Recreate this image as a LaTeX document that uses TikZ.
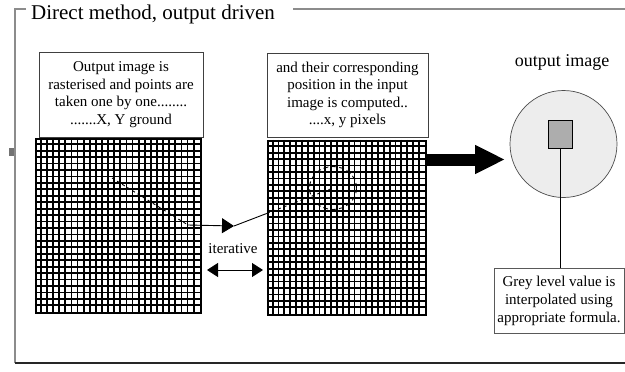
\documentclass[tikz,border=0pt]{standalone}
\usepackage{fontspec}
\setmainfont{Liberation Serif}
\usetikzlibrary{arrows.meta,shapes.geometric}
\begin{document}
\begin{tikzpicture}[x=1pt,y=-1pt,
  textbox/.style={draw=black!75, line width=0.8pt, fill=white, align=center,
    inner sep=0pt, font=\fontsize{15}{17.6}\selectfont},
  gridbox/.style={draw=black, line width=2.4pt, inner sep=0pt},
  gridline/.style={line width=1.8pt, black},
  thinline/.style={line width=0.9pt, black},
  frameline/.style={line width=1.3pt, black!45},
  tri/.style={-{Triangle[length=12pt,width=15pt]}},
  dbl/.style={{Triangle[length=11pt,width=14pt]}-{Triangle[length=11pt,width=14pt]}, line width=0.9pt},
  bigarrow/.style={line width=12pt, -{Triangle[length=30pt,width=27pt]}},
]
\useasboundingbox (0,0) rectangle (625,372);

% outer frame with its title
\node[font=\fontsize{21}{24}\selectfont, inner sep=0pt] (title) at (153,14) {Direct method, output driven};
\draw[frameline] (26,9) -- (15,9) -- (15,363);
\draw[frameline] (293,9) -- (625,9);
\draw[line width=1.3pt, black!85] (15,363) -- (625,363);
\fill[black!55] (9,148) rectangle (14,156);

% explanatory boxes
\node[textbox, minimum width=164pt, minimum height=85pt] (b1) at (121,94.5)
  {Output image is\\rasterised and points are\\taken one by one........\\.......X, Y ground};
\node[textbox, minimum width=161pt, minimum height=84pt] (b2) at (347.5,95)
  {and their corresponding\\position in the input\\image is computed..\\....x, y pixels};

% the two rasters
\node[gridbox, minimum width=165pt, minimum height=174pt] (g1) at (118.5,226) {};
\node[gridbox, minimum width=158pt, minimum height=174pt] (g2) at (347,228) {};
\begin{scope}[shift={(g1.north west)}]
  \foreach \i in {1,...,26} {
    \draw[gridline] (\i*165/27,0) -- (\i*165/27,174);
    \draw[gridline] (0,\i*174/27) -- (165,\i*174/27);
  }
\end{scope}
\begin{scope}[shift={(g2.north west)}]
  \foreach \i in {1,...,26} {
    \draw[gridline] (\i*158/27,0) -- (\i*158/27,174);
    \draw[gridline] (0,\i*174/27) -- (158,\i*174/27);
  }
\end{scope}

% output image
\node[font=\fontsize{18}{20}\selectfont, inner sep=0pt] (olabel) at (562,62) {output image};
\node[circle, draw=black!70, line width=0.7pt, fill=black!7, minimum size=107pt, inner sep=0pt] (outc) at (563.5,144) {};
\node[draw=black, line width=1pt, fill=black!32, minimum width=24pt, minimum height=28pt, inner sep=0pt] (px) at (560,134) {};
\node[textbox, draw=black!65, minimum width=130pt, minimum height=65pt, font=\fontsize{15}{18}\selectfont] (b3) at (559,300.5)
  {Grey level value is\\interpolated using\\appropriate formula.};
\draw[thinline] (px.south) -- (px.south |- b3.north);

% transfer arrow
\coordinate (btip) at (505,159.5);
\draw[bigarrow] (g2.east |- btip) -- (btip);

% point mapping
\node[draw, ellipse, line width=0.9pt, dash pattern=on 5pt off 3pt, minimum width=47pt, minimum height=43pt, inner sep=0pt] (sel) at (333,188) {};
\coordinate (a1) at (112,178);
\coordinate (a2) at (188,225);
\coordinate (a3) at (234,226);
\draw[thinline, dashed] (a1) -- (a2);
\draw[thinline, tri] (a2) -- (a3);
\coordinate (ent) at (intersection of a3--sel.center and g2.north west--g2.south west);
\draw[thinline] (a3) -- (ent);
\draw[thinline, dashed] (ent) -- (sel.center);

% iteration
\node[font=\fontsize{15}{17}\selectfont, inner sep=0pt] (iter) at (233,249) {iterative};
\coordinate (d1) at (207,270);
\coordinate (d2) at (263,270);
\draw[dbl] (d1) -- (d2);
\end{tikzpicture}
\end{document}
